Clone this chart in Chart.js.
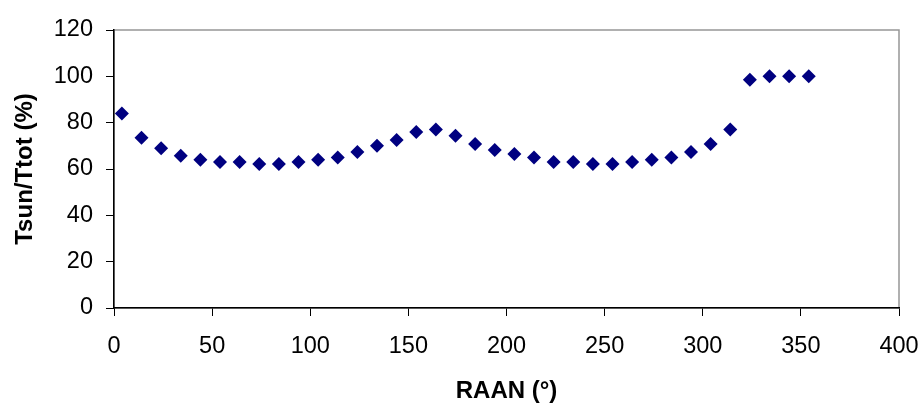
<!DOCTYPE html>
<html>
<head>
<meta charset="utf-8">
<script src="https://cdn.jsdelivr.net/npm/chart.js@4"></script>
<style>
    html, body { margin: 0; padding: 0; background: #fff; }
    #wrap { width: 922px; height: 403px; }
</style>
</head>
<body>
<div id="wrap"><canvas id="sunChart" width="922" height="403"></canvas></div>
<script>
// RAAN (deg) and sunlit fraction of the orbit (%)
const raan = [4, 14, 24, 34, 44, 54, 64, 74, 84, 94, 104, 114, 124, 134, 144, 154, 164, 174,
    184, 194, 204, 214, 224, 234, 244, 254, 264, 274, 284, 294, 304, 314, 324, 334, 344, 354];
const tsunPct = [84, 73.5, 69, 65.7, 64, 63, 63, 62.2, 62.2, 63, 64, 65, 67.3, 70, 72.5, 76, 77, 74.4,
    70.8, 68.2, 66.5, 65, 63, 63, 62.2, 62.2, 63, 64, 65, 67.3, 70.8, 77, 98.5, 100, 100, 100];

const xTicks = [0, 50, 100, 150, 200, 250, 300, 350, 400];
const yTicks = [0, 20, 40, 60, 80, 100, 120];

const fontFamily = "'Liberation Sans', Arial, sans-serif";

const points = raan.map((x, i) => ({ x: x, y: tsunPct[i] }));

// grey frame round the plot area, like the spreadsheet original
const plotFrame = {
    id: "plotFrame",
    beforeDraw(chart) {
        const ctx = chart.ctx;
        const a = chart.chartArea;
        ctx.save();
        ctx.fillStyle = "#fff";
        ctx.fillRect(0, 0, chart.width, chart.height);
        ctx.strokeStyle = "#969696";
        ctx.lineWidth = 1.5;
        ctx.strokeRect(a.left, a.top, a.right - a.left, a.bottom - a.top);
        ctx.restore();
    }
};

new Chart(document.getElementById("sunChart").getContext("2d"), {
    type: "scatter",
    data: {
        datasets: [{
            label: "Tsun/Ttot",
            data: points,
            pointStyle: "rectRot",
            pointRadius: 7,
            pointBorderWidth: 0,
            backgroundColor: "#000080",
            borderColor: "#000080"
        }]
    },
    options: {
        responsive: false,
        animation: false,
        layout: { padding: { left: 0, top: 30, right: 23, bottom: 0 } },
        plugins: {
            legend: { display: false },
            tooltip: { enabled: false }
        },
        scales: {
            x: {
                type: "linear",
                min: 0,
                max: 400,
                afterFit: scale => {
                    scale.height = 95;
                    scale.paddingLeft = 0;
                    scale.paddingRight = 0;
                },
                afterBuildTicks: scale => { scale.ticks = xTicks.map(v => ({ value: v })); },
                grid: { drawOnChartArea: false, drawTicks: true, tickLength: 8, color: "#000" },
                border: { display: true, color: "#000", width: 1.5 },
                ticks: {
                    color: "#000",
                    padding: 16,
                    font: { family: fontFamily, size: 23.5 }
                },
                title: {
                    display: true,
                    text: "RAAN (°)",
                    color: "#000",
                    padding: { top: 0, bottom: 0 },
                    font: { family: fontFamily, size: 24, weight: "bold", lineHeight: 1 }
                }
            },
            y: {
                type: "linear",
                min: 0,
                max: 120,
                afterFit: scale => {
                    scale.width = 114;
                    scale.paddingTop = 0;
                    scale.paddingBottom = 0;
                },
                afterBuildTicks: scale => { scale.ticks = yTicks.map(v => ({ value: v })); },
                grid: { drawOnChartArea: false, drawTicks: true, tickLength: 8, color: "#000" },
                border: { display: true, color: "#000", width: 1.5 },
                ticks: {
                    color: "#000",
                    padding: 13,
                    font: { family: fontFamily, size: 23.5 }
                },
                title: {
                    display: true,
                    text: "Tsun/Ttot (%)",
                    color: "#000",
                    padding: { top: 13, bottom: 0 },
                    font: { family: fontFamily, size: 24, weight: "bold", lineHeight: 1 }
                }
            }
        }
    },
    plugins: [plotFrame]
});
</script>
</body>
</html>
